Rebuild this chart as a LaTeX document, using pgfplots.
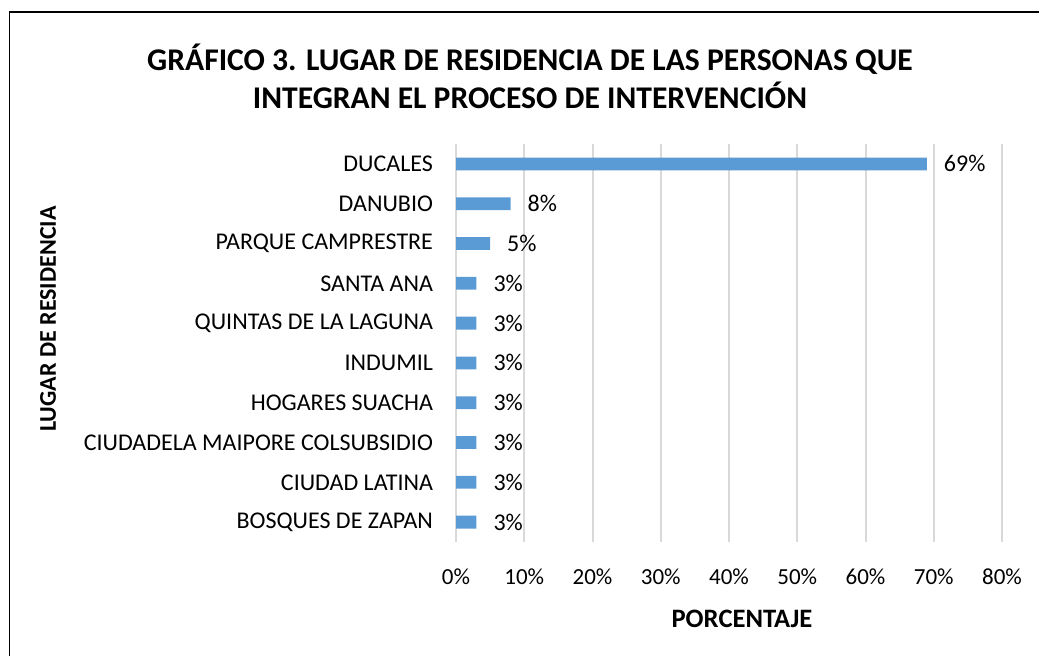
\documentclass[border=0pt]{standalone}
\usepackage{fontspec}
\setmainfont{Carlito}
\usepackage{pgfplots}
\pgfplotsset{compat=1.18}

\definecolor{barblue}{HTML}{5B9BD5}
\definecolor{gridgray}{HTML}{D9D9D9}

\begin{document}
\begin{tikzpicture}[x=0.5pt,y=0.5pt]
% page = 1039 x 655 px, 1px = 0.5pt, origin at top left
\path[use as bounding box] (0,0) rectangle (1039,-655);
\draw[black, line width=0.8pt] (9.5,-700) -- (9.5,-12) -- (1100,-12);

\node[font=\fontsize{15.8}{19}\selectfont\bfseries, align=center] at (530,-76)
  {GRÁFICO 3. LUGAR DE RESIDENCIA DE LAS PERSONAS QUE\\[0pt]INTEGRAN EL PROCESO DE INTERVENCIÓN};
\node[font=\fontsize{13.3}{15}\selectfont\bfseries] at (742,-619) {PORCENTAJE};
\node[font=\fontsize{12}{14}\selectfont\bfseries, rotate=90] at (48,-319) {LUGAR DE RESIDENCIA};

\begin{axis}[
  at={(228pt,-271pt)}, anchor=south west,
  scale only axis, width=273pt, height=199pt,
  xbar, bar width=6.4pt,
  xmin=0, xmax=80, ymin=-0.5, ymax=9.5,
  xtick={0,10,...,80},
  xticklabel={\pgfmathprintnumber{\tick}\%},
  ytick={0,...,9},
  yticklabels={BOSQUES DE ZAPAN,CIUDAD LATINA,CIUDADELA MAIPORE COLSUBSIDIO,HOGARES SUACHA,INDUMIL,QUINTAS DE LA LAGUNA,SANTA ANA,PARQUE CAMPRESTRE,DANUBIO,DUCALES},
  /pgf/number format/assume math mode=true,
  axis line style={draw=none},
  major tick length=0pt,
  xmajorgrids, grid style={gridgray, line width=1pt},
  xticklabel style={font=\fontsize{11.5}{13}\selectfont, yshift=-10pt},
  yticklabel style={font=\fontsize{12}{14}\selectfont, xshift=-8pt},
  nodes near coords={\pgfmathprintnumber{\pgfplotspointmeta}\%},
  nodes near coords style={font=\fontsize{12}{14}\selectfont, anchor=west, xshift=5pt},
  point meta=x,
  clip=false,
]
\addplot[draw=none, fill=barblue] coordinates {
  (3,0) (3,1) (3,2) (3,3) (3,4) (3,5) (3,6) (5,7) (8,8) (69,9)};
\end{axis}
\end{tikzpicture}
\end{document}
